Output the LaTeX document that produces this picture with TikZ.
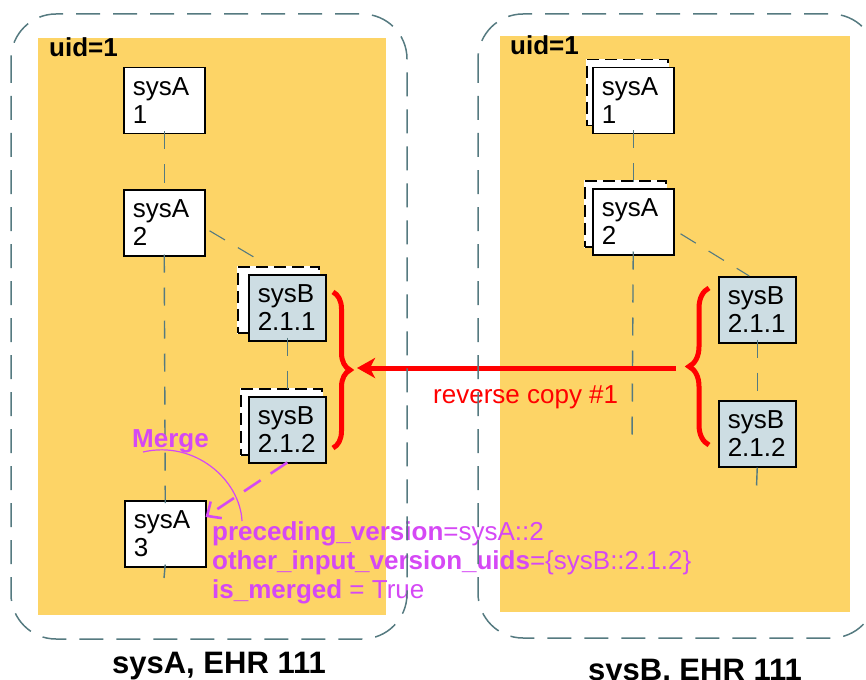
\documentclass[tikz,border=0pt]{standalone}
\usepackage{fontspec}
\setmainfont{Liberation Sans}
\usetikzlibrary{arrows.meta,decorations.pathreplacing,calc}
\definecolor{panel}{RGB}{253,212,102}
\definecolor{slate}{RGB}{85,122,128}
\definecolor{bfill}{RGB}{205,221,227}
\definecolor{mag}{RGB}{213,72,245}
\begin{document}
\begin{tikzpicture}[x=1pt,y=-1pt,
  vbox/.style={draw=black, line width=1.5pt, fill=white, minimum width=81pt, minimum height=66pt,
    text width=63pt, inner xsep=9pt, inner ysep=0pt, align=left,
    font=\fontsize{26pt}{28pt}\selectfont, anchor=north west},
  bbox/.style={vbox, fill=bfill, minimum width=77pt, text width=59pt},
  ghost/.style={draw=white, line width=1.5pt, fill=white, minimum width=81pt, minimum height=66pt,
    inner sep=0pt, anchor=north west,
    postaction={draw=black, line width=1.5pt, dash pattern=on 12pt off 6pt}},
  conn/.style={draw=slate, line width=1.4pt, dash pattern=on 18pt off 15pt},
  frame/.style={draw=slate, line width=1.5pt, dash pattern=on 24pt off 13pt, rounded corners=45pt},
  txt/.style={font=\fontsize{26pt}{29pt}\selectfont, inner sep=0pt, anchor=base west},
  btxt/.style={txt, font=\fontsize{26pt}{29pt}\selectfont\bfseries},
  redbrace/.style={draw=red, line width=5pt, decorate},
]
\useasboundingbox (0,0) rectangle (866,679);

% panels
\fill[panel] (38,38) rectangle (386,615);
\fill[panel] (500,36) rectangle (850,612);

% ---------- left side (sysA, EHR 111) ----------
\node[vbox] (la1) at (123,67) {sysA\\1};
\node[vbox] (la2) at (123,189) {sysA\\2};
\node[ghost] (lb1back) at (237,266) {};
\node[bbox] (lb1) at (248,274) {sysB\\2.1.1};
\node[ghost] (lb2back) at (240,388) {};
\node[bbox] (lb2) at (248,396) {sysB\\2.1.2};
\node[vbox] (la3) at (124,500) {sysA\\3};
\coordinate (lend) at (164,578);

\draw[conn] ([yshift=3pt]la1.south) -- (la2.north);
\draw[conn] ([yshift=2pt]la2.south) -- ([yshift=-3pt]la3.north);
\draw[conn] ([yshift=3pt]la3.south) -- (lend);
\draw[conn, line width=1.1pt] ([shift={(4,8)}]la2.east) -- ([shift={(-19.5,-6)}]lb1back.north);
\draw[conn] ([yshift=4pt]lb1.south) -- ([yshift=-3pt]lb1.south |- lb2back.north);

% merge arrow
\draw[mag, line width=2.6pt, dash pattern=on 20pt off 12pt, -{Straight Barb[length=11pt,width=20pt]}]
  ([yshift=1pt]lb2.south) -- ([shift={(-1,17)}]la3.north east);
\draw[mag, line width=1.2pt] (143,452) .. controls (195,440) and (240,480) .. (242,521);
\node[btxt, text=mag] (merge) at (132,447) {Merge};
\node[btxt] (uidl) at (49,57) {uid=1};

% ---------- right side (sysB, EHR 111) ----------
\node[ghost] (ra1back) at (586,59) {};
\node[vbox] (ra1) at (592,67) {sysA\\1};
\node[ghost] (ra2back) at (584,180) {};
\node[vbox] (ra2) at (592,188) {sysA\\2};
\node[bbox] (rb1) at (718,276) {sysB\\2.1.1};
\node[bbox] (rb2) at (718,400) {sysB\\2.1.2};
\coordinate (rend1) at (632,447);
\coordinate (rend2) at (756,500);

\draw[conn] ([yshift=4pt]ra1.south) -- ([yshift=-3pt]ra1.south |- ra2back.north);
\draw[conn] ([yshift=4pt]ra2.south) -- (rend1);
\draw[conn, line width=1.1pt] ([shift={(6,12)}]ra2.east) -- ([shift={(-8,0)}]rb1.north);
\draw[conn] ([yshift=4pt]rb1.south) -- (rb2.north);
\draw[conn] (rb2.south) -- (rend2);
\node[btxt] (uidr) at (510,55) {uid=1};

% braces and reverse copy arrow
\draw[redbrace, decoration={brace, amplitude=17pt}] (333,292) -- (333,448);
\draw[redbrace, decoration={brace, amplitude=20pt}] (709,445) -- (709,288);
\coordinate (ltip) at (350,368);
\coordinate (rtip) at (688,368);
\draw[red, line width=5pt, shorten <=12pt, shorten >=7pt,
  -{Stealth[length=18pt,width=20pt,inset=5pt]}] (rtip) -- (ltip);
\node[txt, text=red] (rev) at (433,403) {reverse copy \#1};

% merge attributes
\node[txt, text=mag] (m1) at (212,540) {\textbf{preceding\_version}=sysA::2};
\node[txt, text=mag] (m2) at (212,569) {\textbf{other\_input\_version\_uids}=\{sysB::2.1.2\}};
\node[txt, text=mag] (m3) at (212,598) {\textbf{is\_merged} = True};

% system frames
\draw[frame] (11,14) rectangle (407,639);
\draw[frame] (478,14) rectangle (876,638);

% captions
\node[inner sep=0pt, anchor=base, font=\fontsize{31pt}{34pt}\selectfont\bfseries] (capA) at (219,673) {sysA, EHR 111};
\node[inner sep=0pt, anchor=base, font=\fontsize{31pt}{34pt}\selectfont\bfseries] (capB) at (695,680) {sysB, EHR 111};
\end{tikzpicture}
\end{document}
